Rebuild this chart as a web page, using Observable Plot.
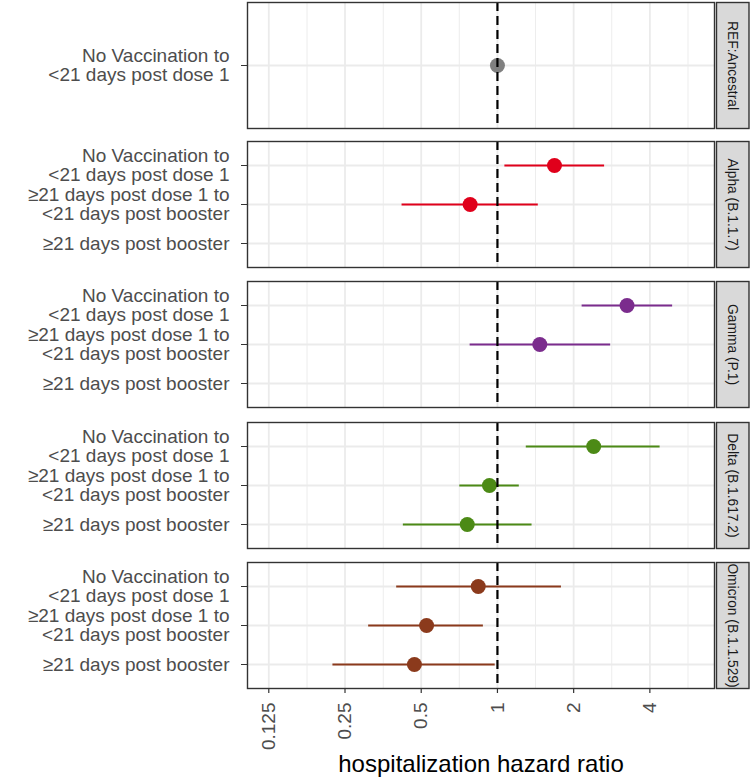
<!DOCTYPE html>
<html>
<head>
<meta charset="utf-8">
<script src="https://cdn.jsdelivr.net/npm/d3@7"></script>
<script src="https://cdn.jsdelivr.net/npm/@observablehq/plot@0.6"></script>
<style>
  html, body { margin: 0; padding: 0; background: #fff; }
  #chart { width: 750px; }
  #chart svg { display: block; }
</style>
</head>
<body>
<div id="chart"></div>
<script>
// ---- data ----
const variants = ["REF:Ancestral", "Alpha (B.1.1.7)", "Gamma (P.1)", "Delta (B.1.617.2)", "Omicron (B.1.1.529)"];
const variantColors = ["#808080", "#E0001B", "#7B2C8D", "#4C8A16", "#8B3A1C"];
const comparisons = [
  "No Vaccination to\n<21 days post dose 1",
  "≥21 days post dose 1 to\n<21 days post booster",
  "≥21 days post booster"
];
// hazard ratios per variant, per comparison (null = not estimated)
const hr    = [[1.00], [1.68, 0.78, null], [3.25, 1.47, null], [2.40, 0.93, 0.76], [0.84, 0.525, 0.47]];
const lower = [[1.00], [1.07, 0.42, null], [2.16, 0.78, null], [1.30, 0.71, 0.425], [0.40, 0.31, 0.224]];
const upper = [[1.00], [2.65, 1.45, null], [4.92, 2.80, null], [4.39, 1.22, 1.37], [1.79, 0.88, 0.98]];
const xTicks = [0.125, 0.25, 0.5, 1, 2, 4];
const xTickLabels = ["0.125", "0.25", "0.5", "1", "2", "4"];
const xMinorTicks = [0.177, 0.354, 0.707, 1.414, 2.828, 5.657];
const xDomain = [0.103, 7.2];
const xLabel = "hospitalization hazard ratio";

// ---- layout ----
const W = 750, mL = 247, mR = 36, panelH = 126;
const tops = [2, 1, 1, 2, 2];
const bottoms = [12, 13, 13, 12, 91];
const font = "Liberation Sans, Arial, Helvetica, sans-serif";
const grid = "#EBEBEB";

const chart = document.getElementById("chart");

variants.forEach((v, i) => {
  const cats = comparisons.slice(0, hr[i].length === 1 ? 1 : 3);
  const rows = [];
  hr[i].forEach((h, j) => {
    if (h != null) rows.push({comparison: comparisons[j], hr: h, lo: lower[i][j], hi: upper[i][j]});
  });
  const last = i === variants.length - 1;
  const plotW = W - mL - mR;
  const marks = [
    Plot.ruleX(xMinorTicks, {stroke: grid, strokeWidth: 0.9}),
    Plot.ruleX(xTicks, {stroke: grid, strokeWidth: 1.8}),
    Plot.ruleY(cats, {stroke: grid, strokeWidth: 1.8}),
    Plot.ruleY(rows, {y: "comparison", x1: "lo", x2: "hi", stroke: variantColors[i], strokeWidth: 2.2}),
    Plot.dot(rows, {y: "comparison", x: "hr", r: 7.5, fill: variantColors[i], stroke: "none"}),
    Plot.ruleX([1], {stroke: "#000", strokeWidth: 2.2, strokeDasharray: "9,5"}),
    Plot.frame({stroke: "#333", strokeWidth: 1.4}),
    Plot.frame({fill: "#D9D9D9", stroke: "#333", strokeWidth: 1.4, insetLeft: plotW + 2, insetRight: -34.5}),
    Plot.text([v], {frameAnchor: "right", textAnchor: "middle", lineAnchor: "middle", dx: 18, rotate: 90, fontSize: 13.8, fill: "#1A1A1A"}),
    Plot.axisY({tickSize: 6, tickPadding: 12, fontSize: 19, lineHeight: 1.0, stroke: "#333", fill: "#4D4D4D", label: null, tickFormat: d => d})
  ];
  if (last) {
    marks.push(
      // x tick marks just below the panel
      Plot.ruleX(xTicks, {stroke: "#333", strokeWidth: 1.2, insetTop: panelH, insetBottom: -5}),
      // rotated x tick labels
      Plot.text(xTicks, {x: d => d, text: (d, k) => xTickLabels[k], frameAnchor: "bottom", rotate: -90,
        textAnchor: "end", lineAnchor: "middle", dy: 14, fontSize: 19, fill: "#4D4D4D"}),
      Plot.text([xLabel], {frameAnchor: "bottom", textAnchor: "middle", dy: 76, fontSize: 24, fill: "#000", lineAnchor: "middle"})
    );
  }
  const svg = Plot.plot({
    width: W,
    height: panelH + tops[i] + bottoms[i],
    marginLeft: mL,
    marginRight: mR,
    marginTop: tops[i],
    marginBottom: bottoms[i],
    style: {fontFamily: font, background: "#fff", overflow: "visible"},
    x: {type: "log", domain: xDomain, axis: null},
    y: {type: "point", domain: cats, padding: 0.6},
    marks
  });
  chart.appendChild(svg);
});
</script>
</body>
</html>
